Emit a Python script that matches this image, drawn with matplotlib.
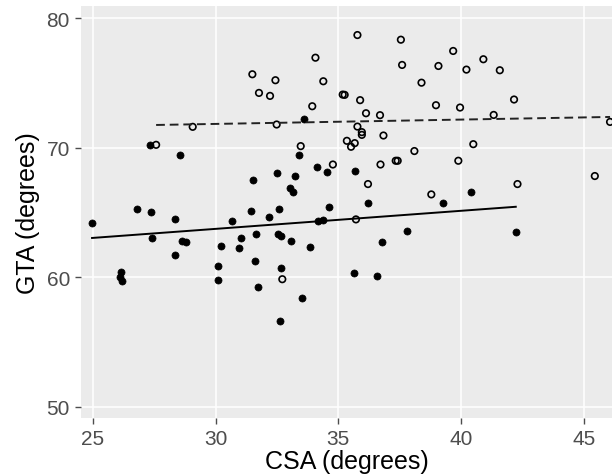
import numpy as np
import matplotlib
matplotlib.use("Agg")
import matplotlib.pyplot as plt

# Filled group (CSA, GTA)
filled_csa = [24.97, 26.79, 27.36, 27.42, 28.34, 28.64, 28.80, 28.35, 26.15, 26.11, 26.18,
              27.33, 28.56, 30.10, 30.09, 30.23, 30.66, 31.04, 30.96, 31.46, 31.64, 31.62,
              31.73, 32.18, 32.59, 32.55, 32.66, 33.08, 32.68, 32.62, 33.54, 33.85, 34.16,
              34.39, 34.64, 33.59, 33.40, 34.15, 34.53, 32.52, 33.24, 31.54, 33.04, 33.15,
              35.70, 36.23, 39.27, 40.42, 37.80, 42.23, 36.77, 35.66, 36.58]
filled_gta = [64.16, 65.24, 65.07, 63.04, 64.47, 62.81, 62.73, 61.75, 60.42, 60.00, 59.69,
              70.23, 69.44, 60.85, 59.82, 62.42, 64.37, 63.06, 62.29, 65.12, 63.37, 61.23,
              59.23, 64.68, 65.30, 63.32, 63.21, 62.83, 60.69, 56.66, 58.43, 62.37, 64.32,
              64.43, 65.40, 72.21, 69.48, 68.51, 68.10, 68.05, 67.86, 67.51, 66.86, 66.55,
              68.23, 65.71, 65.76, 66.58, 63.58, 63.50, 62.73, 60.36, 60.11]

# Open group (CSA, GTA)
open_csa = [31.50, 31.77, 32.22, 32.44, 34.07, 34.39, 33.94, 32.49, 29.07, 27.58, 33.47,
            34.78, 35.78, 37.55, 37.60, 39.68, 40.91, 39.08, 40.22, 41.58, 38.39, 35.18,
            35.26, 35.89, 42.16, 38.98, 39.96, 36.13, 36.70, 41.33, 35.78, 35.96, 35.96,
            36.84, 35.35, 35.67, 35.52, 40.50, 38.10, 36.72, 37.34, 37.42, 39.89, 36.21,
            38.79, 42.30, 45.45, 46.07, 32.72, 35.72]
open_gta = [75.68, 74.24, 74.01, 75.22, 76.96, 75.14, 73.21, 71.80, 71.62, 70.23, 70.13,
            68.71, 78.71, 78.35, 76.40, 77.48, 76.84, 76.32, 76.04, 75.99, 75.03, 74.11,
            74.09, 73.68, 73.73, 73.29, 73.11, 72.67, 72.52, 72.54, 71.64, 71.21, 71.00,
            70.95, 70.54, 70.36, 70.08, 70.28, 69.75, 68.71, 69.00, 69.00, 69.00, 67.20,
            66.40, 67.20, 67.82, 72.00, 59.85, 64.47]

# Fitted lines: (intercept at CSA=0, slope)
filled_fit = [59.55, 0.1396]
open_fit = [70.84, 0.0335]

x_ticks = [25, 30, 35, 40, 45]
y_ticks = [50, 60, 70, 80]

plt.rcParams['font.family'] = ['Liberation Sans', 'DejaVu Sans']

fig = plt.figure(figsize=(6.12, 4.77), dpi=100)
ax = fig.add_axes([81 / 612, 1 - 419 / 477, 1 - 81 / 612, (419 - 7.3) / 477])
ax.set_facecolor('#EBEBEB')
for s in ax.spines.values():
    s.set_visible(False)
ax.grid(True, color='white', linewidth=1.1)
ax.set_axisbelow(True)

ax.scatter(filled_csa, filled_gta, s=26, c='black', edgecolors='black', linewidths=0.5, zorder=3)
ax.scatter(open_csa, open_gta, s=22, facecolors='none', edgecolors='black', linewidths=1.2, zorder=3)

fx = np.array([min(filled_csa), max(filled_csa)])
ax.plot(fx, filled_fit[0] + filled_fit[1] * fx, color='black', linewidth=1.4, zorder=4)
ox = np.array([min(open_csa), max(open_csa)])
ax.plot(ox, open_fit[0] + open_fit[1] * ox, color='#222222', linewidth=1.4,
        linestyle=(0, (4.5, 2.5)), zorder=4)

ax.set_xlim(24.52, 46.15)
ax.set_ylim(49.13, 80.93)
ax.set_xticks(x_ticks)
ax.set_yticks(y_ticks)
ax.tick_params(axis='both', colors='#4D4D4D', labelsize=15, length=4, width=1, pad=4)
ax.set_xlabel('CSA (degrees)', fontsize=18, color='black', labelpad=1)
ax.set_ylabel('GTA (degrees)', fontsize=18, color='black', labelpad=5)

fig.savefig('out.png', dpi=100)
